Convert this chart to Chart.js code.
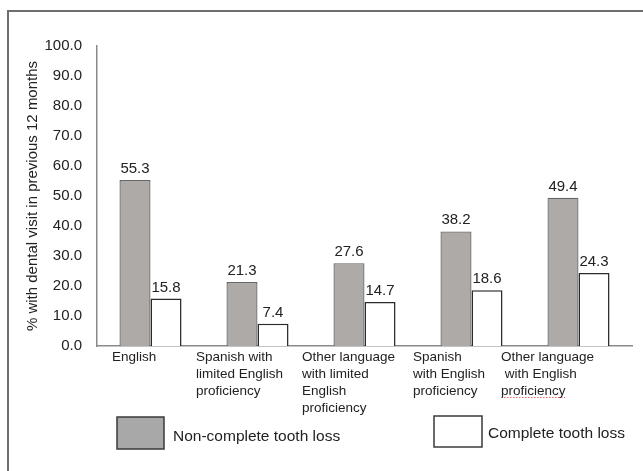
<!DOCTYPE html>
<html>
<head>
<meta charset="utf-8">
<script src="https://cdn.jsdelivr.net/npm/chart.js@4"></script>
<style>
  body { margin: 0; background: #fff; }
  #frame { position: absolute; left: 7px; top: 10px; width: 700px; height: 500px;
           border-top: 2px solid #6e6e6e; border-left: 2px solid #6e6e6e; }
  #wrap { position: absolute; left: 0; top: 0; width: 643px; height: 471px; }
</style>
</head>
<body>
<div id="frame"></div>
<div id="wrap"><canvas id="dentalChart" width="643" height="471"></canvas></div>
<script>
// Categories (x axis), one array of lines per label
const groups = [
    ['English'],
    ['Spanish with', 'limited English', 'proficiency'],
    ['Other language', 'with limited', 'English', 'proficiency'],
    ['Spanish', 'with English', 'proficiency'],
    ['Other language', ' with English', 'proficiency']
];

// % with dental visit in previous 12 months
const nonCompleteLoss = [55.3, 21.3, 27.6, 38.2, 49.4];
const completeLoss = [15.8, 7.4, 14.7, 18.6, 24.3];

const yTicks = [0, 10, 20, 30, 40, 50, 60, 70, 80, 90, 100];

const textColor = '#222';
const fontFamily = 'Arial, "Liberation Sans", sans-serif';

// horizontal nudge of each category label block from the category centre
const labelNudge = [-38.5, -61.5, -62.5, -58.5, -77.5];

// value labels above bars
const valueLabels = {
    id: 'valueLabels',
    afterDatasetsDraw(chart) {
        const ctx = chart.ctx;
        ctx.save();
        ctx.font = '15px ' + fontFamily;
        ctx.fillStyle = textColor;
        ctx.textAlign = 'center';
        ctx.textBaseline = 'alphabetic';
        chart.data.datasets.forEach((ds, i) => {
            chart.getDatasetMeta(i).data.forEach((bar, j) => {
                ctx.fillText(ds.data[j].toFixed(1), bar.x, bar.y - 7);
            });
        });
        ctx.restore();
    }
};

// multi-line, left aligned category labels under the x axis
const categoryLabels = {
    id: 'categoryLabels',
    afterDraw(chart) {
        const ctx = chart.ctx;
        const x = chart.scales.x;
        ctx.save();
        ctx.font = '13.5px ' + fontFamily;
        ctx.fillStyle = textColor;
        ctx.textAlign = 'left';
        ctx.textBaseline = 'middle';
        groups.forEach((lines, i) => {
            const left = x.getPixelForValue(i) + labelNudge[i];
            lines.forEach((line, k) => {
                ctx.fillText(line, left, x.top + 11.5 + k * 16.8);
            });
        });
        // spell-check squiggle under the last "proficiency"
        const sx = x.getPixelForValue(4) + labelNudge[4];
        ctx.strokeStyle = '#e26b6b';
        ctx.lineWidth = 1;
        ctx.setLineDash([1.5, 1.5]);
        ctx.beginPath();
        ctx.moveTo(sx, 397.5);
        ctx.lineTo(sx + 64, 397.5);
        ctx.stroke();
        ctx.restore();
    }
};

// legend boxes at the bottom
const boxLegend = {
    id: 'boxLegend',
    afterDraw(chart) {
        const ctx = chart.ctx;
        const spots = [
            { bx: 117, by: 417, w: 47, h: 32, tx: 173, ty: 437, fill: '#a8a8a8' },
            { bx: 434, by: 416, w: 48, h: 31, tx: 488, ty: 434, fill: '#ffffff' }
        ];
        ctx.save();
        ctx.font = '15.5px ' + fontFamily;
        ctx.textBaseline = 'middle';
        chart.data.datasets.forEach((ds, i) => {
            const s = spots[i];
            ctx.fillStyle = s.fill;
            ctx.fillRect(s.bx, s.by, s.w, s.h);
            ctx.strokeStyle = '#3a3a3a';
            ctx.lineWidth = 1.5;
            ctx.strokeRect(s.bx, s.by, s.w, s.h);
            ctx.fillStyle = textColor;
            ctx.fillText(ds.label, s.tx, s.ty);
        });
        ctx.restore();
    }
};

const ctxDental = document.getElementById('dentalChart').getContext('2d');
const dentalChart = new Chart(ctxDental, {
    type: 'bar',
    data: {
        labels: groups,
        datasets: [{
            label: 'Non-complete tooth loss',
            data: nonCompleteLoss,
            backgroundColor: '#aeaaa8',
            borderColor: '#666666',
            borderWidth: 1.3
        }, {
            label: 'Complete tooth loss',
            data: completeLoss,
            backgroundColor: '#ffffff',
            borderColor: '#2a2a2a',
            borderWidth: 1.5
        }]
    },
    options: {
        responsive: false,
        animation: false,
        categoryPercentage: 0.58,
        barPercentage: 1.0,
        layout: { padding: { top: 46, right: 11, left: 0, bottom: 0 } },
        plugins: {
            legend: { display: false },
            tooltip: { enabled: false }
        },
        scales: {
            x: {
                grid: { display: false, drawTicks: false },
                border: { display: true, color: '#8a8a8a', width: 1.5 },
                ticks: { display: false },
                afterFit(scale) { scale.height = 125; }
            },
            y: {
                min: 0,
                max: 100,
                afterBuildTicks(scale) { scale.ticks = yTicks.map(v => ({ value: v })); },
                grid: { display: false, drawTicks: false },
                border: { display: true, color: '#8a8a8a', width: 1.5 },
                ticks: {
                    padding: 15,
                    color: textColor,
                    font: { size: 15, family: fontFamily },
                    callback: v => Number(v).toFixed(1)
                },
                title: {
                    display: true,
                    text: '% with dental visit in previous 12 months',
                    color: textColor,
                    font: { size: 15, family: fontFamily },
                    padding: { top: 24, bottom: 0 }
                },
                afterFit(scale) { scale.width = 97; }
            }
        }
    },
    plugins: [valueLabels, categoryLabels, boxLegend]
});
</script>
</body>
</html>
